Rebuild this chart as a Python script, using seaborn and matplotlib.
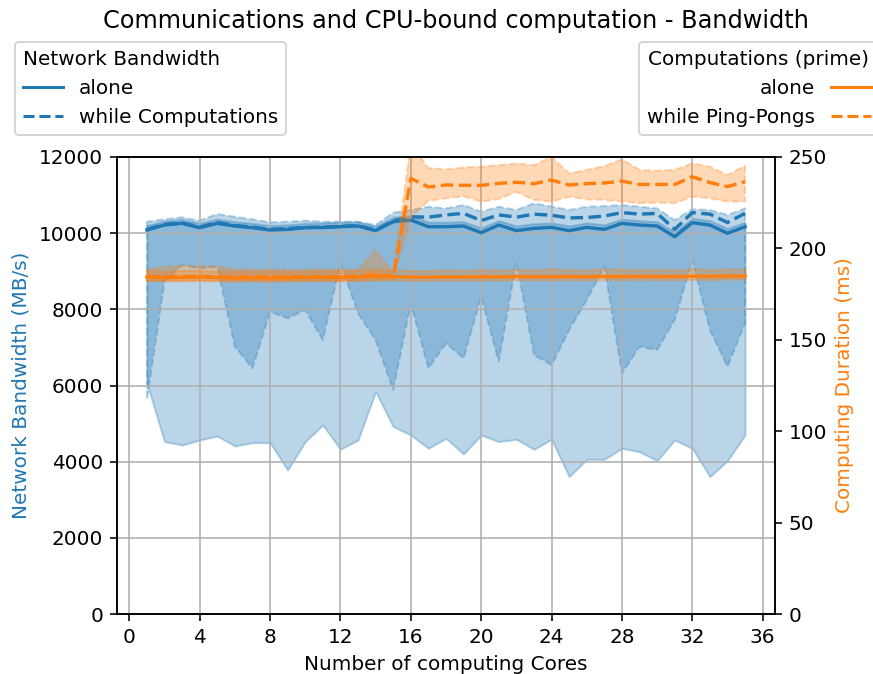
import numpy as np
import pandas as pd
import matplotlib
matplotlib.use("Agg")
import matplotlib.pyplot as plt
from matplotlib.ticker import MultipleLocator
from matplotlib.lines import Line2D
import seaborn as sns

# Number of computing cores
cores = [1, 2, 3, 4, 5, 6, 7, 8, 9, 10, 11, 12, 13, 14, 15, 16, 17, 18,
         19, 20, 21, 22, 23, 24, 25, 26, 27, 28, 29, 30, 31, 32, 33, 34, 35]

# Network bandwidth (MB/s), ping-pongs alone
bw_alone = [10083, 10214, 10258, 10144, 10258, 10188, 10144, 10083, 10100, 10144,
            10150, 10170, 10188, 10066, 10302, 10346, 10170, 10171, 10188, 10013,
            10214, 10066, 10127, 10153, 10066, 10153, 10100, 10258, 10214, 10188,
            9908, 10276, 10214, 9997, 10171]
bw_alone_lo = [6058, 4527, 4438, 4569, 4674, 4411, 4499, 4499, 3781, 4527,
               4963, 4324, 4569, 5838, 4920, 4700, 4350, 4613, 4201, 4700,
               4527, 4587, 4324, 4587, 3606, 4061, 4061, 4350, 4263, 4026,
               4569, 4350, 3606, 4026, 4700]
bw_alone_hi = [10200, 10320, 10360, 10260, 10370, 10300, 10260, 10200, 10220, 10260,
               10270, 10290, 10300, 10180, 10420, 10460, 10290, 10290, 10300, 10140,
               10330, 10190, 10250, 10270, 10190, 10270, 10220, 10370, 10330, 10300,
               10030, 10390, 10330, 10120, 10290]

# Network bandwidth (MB/s), ping-pongs while computations run
bw_comp = [10100, 10230, 10270, 10160, 10280, 10200, 10160, 10100, 10120, 10150,
           10160, 10180, 10200, 10080, 10320, 10430, 10420, 10480, 10520, 10330,
           10480, 10420, 10500, 10470, 10400, 10410, 10450, 10540, 10500, 10520,
           10100, 10540, 10500, 10280, 10520]
bw_comp_lo = [5620, 8727, 9164, 9077, 9120, 7019, 6451, 7938, 7763, 7983,
              7195, 9208, 7895, 7195, 5882, 8158, 6450, 7108, 6714, 8333,
              6626, 9252, 6801, 6538, 7457, 8245, 9120, 6320, 7019, 6932,
              7720, 9296, 7457, 6495, 7633]
bw_comp_hi = [10302, 10363, 10416, 10328, 10503, 10433, 10363, 10284, 10302, 10328,
              10302, 10302, 10302, 10214, 10538, 10608, 10695, 10650, 10740, 10565,
              10695, 10610, 10784, 10700, 10610, 10695, 10710, 10740, 10695, 10650,
              10346, 10630, 10610, 10477, 10652]

# Computing duration (ms), prime computations alone
cpu_alone = [184.2, 184.0, 184.1, 184.3, 184.0, 183.8, 183.9, 183.8, 183.9, 184.0,
             184.1, 184.0, 184.3, 184.8, 184.5, 184.3, 184.2, 184.4, 184.3, 184.5,
             184.4, 184.6, 184.5, 184.5, 184.6, 184.5, 184.7, 184.6, 184.7, 184.6,
             184.6, 184.8, 184.7, 184.9, 184.8]
cpu_alone_lo = [182.4, 182.3, 182.2, 182.5, 182.3, 182.1, 182.2, 182.1, 182.2, 182.3,
                182.4, 182.3, 182.5, 182.8, 182.7, 182.5, 182.4, 182.6, 182.5, 182.7,
                182.6, 182.8, 182.7, 182.7, 182.8, 182.7, 182.9, 182.8, 182.9, 182.8,
                182.8, 183.0, 182.9, 183.1, 183.0]
cpu_alone_hi = [187.8, 187.5, 187.9, 188.0, 187.6, 187.4, 187.5, 187.6, 187.4, 187.5,
                187.8, 187.6, 187.9, 188.6, 188.2, 188.0, 187.8, 188.4, 187.9, 188.5,
                188.1, 188.6, 188.2, 188.8, 188.4, 188.2, 188.9, 188.5, 188.3, 188.6,
                188.2, 188.9, 188.4, 188.7, 188.6]

# Computing duration (ms), prime computations while ping-pongs run
cpu_pp = [184.6, 184.5, 184.6, 184.7, 184.5, 184.4, 184.5, 184.4, 184.5, 184.5,
          184.6, 184.5, 184.7, 186.0, 184.6, 238.3, 233.6, 234.7, 234.5, 234.5,
          235.6, 236.2, 235.4, 237.4, 234.7, 235.4, 235.8, 236.8, 235.0, 235.0,
          235.0, 239.2, 236.0, 233.8, 236.5]
cpu_pp_lo = [182.2, 182.1, 182.2, 182.3, 182.1, 182.0, 182.1, 182.0, 182.1, 182.1,
             182.2, 182.1, 182.3, 182.4, 183.0, 217.0, 226.0, 227.4, 228.5, 225.6,
             227.0, 231.0, 226.5, 225.6, 228.3, 226.8, 226.5, 225.6, 224.7, 225.0,
             224.7, 228.3, 227.4, 225.6, 225.6]
cpu_pp_hi = [188.5, 190.0, 190.5, 190.3, 190.2, 188.6, 188.4, 188.5, 188.3, 188.4,
             188.6, 188.5, 188.4, 199.0, 186.5, 257.0, 244.0, 243.2, 244.3, 244.7,
             245.6, 246.5, 245.5, 250.2, 241.0, 243.0, 245.0, 248.7, 243.0, 242.5,
             243.0, 246.5, 244.7, 240.2, 245.1]

bw_df = pd.DataFrame({"cores": cores, "alone": bw_alone, "comp": bw_comp})
cpu_df = pd.DataFrame({"cores": cores, "alone": cpu_alone, "pp": cpu_pp})

blue, orange = "#1f77b4", "#ff7f0e"
DPI = 144

fig = plt.figure(figsize=(873 / DPI, 674 / DPI), dpi=DPI)
ax1 = fig.add_axes([117 / 873, 60 / 674, 658 / 873, 457 / 674])
ax2 = ax1.twinx()

# Bandwidth: mean lines with min/max bands
ax1.fill_between(cores, bw_alone_lo, bw_alone_hi, color=blue, alpha=0.3, linestyle="-")
ax1.fill_between(cores, bw_comp_lo, bw_comp_hi, color=blue, alpha=0.3, linestyle="--")
sns.lineplot(data=bw_df, x="cores", y="alone", ax=ax1, color=blue, linestyle="-", linewidth=1.7)
sns.lineplot(data=bw_df, x="cores", y="comp", ax=ax1, color=blue, linestyle="--", linewidth=1.7)

# Computation duration: mean lines with min/max bands
ax2.fill_between(cores, cpu_alone_lo, cpu_alone_hi, color=orange, alpha=0.3, linestyle="-")
ax2.fill_between(cores, cpu_pp_lo, cpu_pp_hi, color=orange, alpha=0.3, linestyle="--")
sns.lineplot(data=cpu_df, x="cores", y="alone", ax=ax2, color=orange, linestyle="-", linewidth=1.7)
sns.lineplot(data=cpu_df, x="cores", y="pp", ax=ax2, color=orange, linestyle="--", linewidth=1.7)

ax1.set_ylim(0, 12000)
ax2.set_ylim(0, 250)
ax1.xaxis.set_major_locator(MultipleLocator(4))
ax1.grid(True)
ax1.set_xlabel("Number of computing Cores")
ax1.set_ylabel("Network Bandwidth (MB/s)", color=blue)
ax2.set_ylabel("Computing Duration (ms)", color=orange)

fig.text(456 / 873, 1 - 21 / 674, "Communications and CPU-bound computation - Bandwidth",
         ha="center", va="center", fontsize=12)

bw_handles = [Line2D([], [], color=blue, linestyle="-"),
              Line2D([], [], color=blue, linestyle="--")]
cpu_handles = [Line2D([], [], color=orange, linestyle="-"),
               Line2D([], [], color=orange, linestyle="--")]
fig.legend(bw_handles, ["alone", "while Computations"], title="Network Bandwidth",
           loc="upper left", bbox_to_anchor=(15 / 873, 1 - 42 / 674),
           alignment="left", borderaxespad=0)
fig.legend(cpu_handles, ["alone", "while Ping-Pongs"], title="Computations (prime)",
           loc="upper left", bbox_to_anchor=(639 / 873, 1 - 42 / 674),
           markerfirst=False, borderaxespad=0)

fig.savefig("out.png", dpi=DPI)
